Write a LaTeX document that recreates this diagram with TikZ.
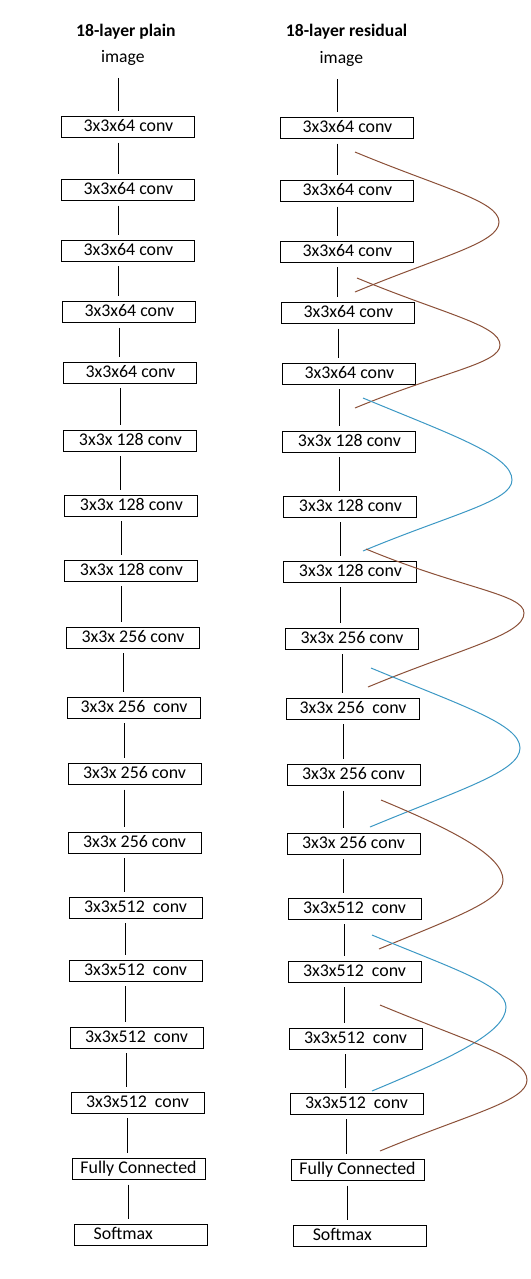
\documentclass[tikz,border=0pt]{standalone}
\usepackage{amsmath}
\usepackage{fontspec}
\setmainfont{Carlito}
\definecolor{brn}{RGB}{139,80,56}
\definecolor{blu}{RGB}{60,152,196}
\tikzset{
  layer/.style={draw, line width=0.75pt, minimum width=99.75pt, minimum height=15.75pt,
    inner sep=0pt, text height=8.6pt, text depth=1.5pt, font=\fontsize{13.4}{15}\selectfont},
  head/.style={anchor=base, inner sep=0pt, font=\bfseries\fontsize{13.2}{15}\selectfont},
  inp/.style={anchor=base, inner sep=0pt, font=\fontsize{13.2}{15}\selectfont},
  link/.style={line width=0.75pt, shorten <=3.5pt, shorten >=3.5pt},
  skip/.style={line width=0.75pt}
}

\begin{document}
\begin{tikzpicture}[x=0.75pt,y=0.75pt,yscale=-1,xscale=1]
\useasboundingbox (0,0) rectangle (531,1279);

% Text Node
\node[head] (tp) at (125.9,36) {18-layer plain};
\node[head] (tr) at (346.6,36) {18-layer residual};
\node[inp] (ip) at (122.8,62) {image};
\node[inp] (ir) at (341.4,63.3) {image};

% Text Node
\foreach \n/\x/\y/\t in {1/128.4/127/{3x3x64 conv}, 2/128.4/190/{3x3x64 conv},
    3/128.4/250.5/{3x3x64 conv}, 4/129.4/312/{3x3x64 conv}, 5/130.4/372.5/{3x3x64 conv},
    6/130.4/440.5/{3x3x 128 conv}, 7/131.4/505.5/{3x3x 128 conv}, 8/131.4/570.5/{3x3x 128 conv},
    9/133/637.5/{3x3x 256 conv}, 10/134/707.5/{3x3x 256~ conv}, 11/134.5/774/{3x3x 256 conv},
    12/134.5/842.5/{3x3x 256 conv}, 13/135.5/907.5/{3x3x512~ conv}, 14/135.5/970.5/{3x3x512~ conv},
    15/136.5/1037.5/{3x3x512~ conv}, 16/137.5/1102.5/{3x3x512~ conv},
    17/138.5/1169/{Fully Connected}, 18/140.6/1234.5/{Softmax\hspace*{26pt}}}{
  \node[layer] (p\n) at (\x,\y) {\t};
  \node[layer] (r\n) at (\x+219,\y+1) {\t};
}

% Connection
\path ([xshift=-7.2pt]p1.north) coordinate (ap) ([xshift=-7.2pt]r1.north) coordinate (ar);
\draw[link, shorten <=9.5pt] (ap |- ip.south) -- (ap);
\draw[link, shorten <=9.5pt] (ar |- ir.south) -- (ar);
\foreach \n [count=\m] in {2,...,18}{
  \path ([xshift=-7.2pt]p\m.south) coordinate (up) ([xshift=-7.2pt]r\m.south) coordinate (ur);
  \draw[link] (up) -- (up |- p\n.north);
  \draw[link] (ur) -- (ur |- r\n.north);
}

% Connection
\foreach \k/\sx/\sy/\px/\py/\ex/\ey/\col in {1/355/152/499/222/355/292/brn,
    2/357/278/500/345/355/408/brn, 3/363/398/512/480/363/551/blu,
    4/366/549/524/613/368/687/brn, 5/371/668/520/748/370/827/blu,
    6/381/800/503/880/379/949/brn, 7/372/935/506/1007/372/1091/blu,
    8/380/1005/527/1080/380/1151/brn}{
  \pgfmathsetmacro\ax{\sx+0.6*(\px-\sx)}
  \pgfmathsetmacro\ay{\sy+0.25*(\px-\sx)}
  \pgfmathsetmacro\by{\py-0.3*(\py-\sy)}
  \pgfmathsetmacro\cy{\py+0.3*(\ey-\py)}
  \pgfmathsetmacro\dx{\ex+0.6*(\px-\ex)}
  \pgfmathsetmacro\dy{\ey-0.25*(\px-\ex)}
  \coordinate (s\k) at (\sx,\sy);
  \coordinate (t\k) at (\px,\py);
  \coordinate (e\k) at (\ex,\ey);
  \draw[skip, color=\col] (s\k) .. controls (\ax,\ay) and (\px,\by) .. (t\k)
    .. controls (\px,\cy) and (\dx,\dy) .. (e\k);
}

\end{tikzpicture}
\end{document}
